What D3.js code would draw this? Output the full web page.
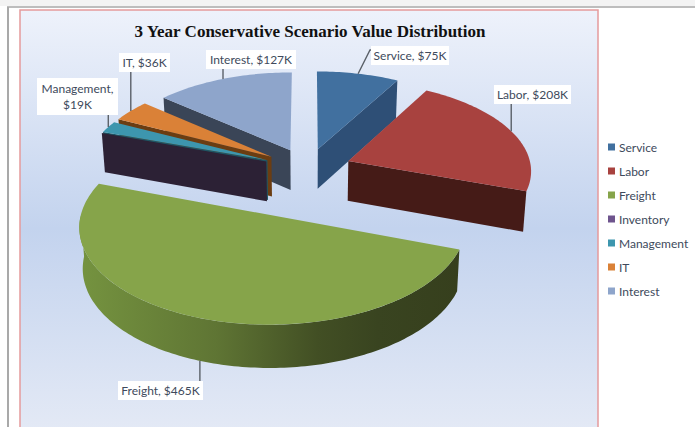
<!DOCTYPE html>
<html>
<head>
<meta charset="utf-8">
<script src="https://cdn.jsdelivr.net/npm/d3@7"></script>
<style>
  html, body { margin: 0; padding: 0; background: #fff; }
  svg { display: block; }
</style>
</head>
<body>
<div id="chart"></div>
<script>
// Cost categories and their values, in $K
const categories = ["Service", "Labor", "Freight", "Inventory", "Management", "IT", "Interest"];
const amounts = [75, 208, 465, 0, 19, 36, 127];
const chartTitle = "3 Year Conservative Scenario Value Distribution";

const topColors = ["#41709f", "#a8423f", "#86a44a", "#6e548d", "#3d96ae", "#da8137", "#8ea5cb"];
const wallColors = ["#2e4f76", "#451b17", "#3a4420", "#2c2135", "#1f5563", "#6b3d12", "#3a4557"];

const W = 695, H = 427;
const svg = d3.select("#chart").append("svg").attr("width", W).attr("height", H);
const defs = svg.append("defs");

const panelFill = defs.append("linearGradient").attr("id", "panelFill")
  .attr("x1", 0).attr("y1", 0).attr("x2", 0).attr("y2", 1);
[[0, "#eef2fb"], [0.5, "#c3d3ee"], [1, "#e6ebf6"]].forEach(([o, c]) =>
  panelFill.append("stop").attr("offset", o).attr("stop-color", c));

const freightWall = defs.append("linearGradient").attr("id", "freightWall")
  .attr("gradientUnits", "userSpaceOnUse").attr("x1", 85).attr("y1", 0).attr("x2", 460).attr("y2", 0);
[[0, "#74923f"], [0.35, "#5f7534"], [0.62, "#424f24"], [0.78, "#394420"], [1, "#363f1d"]].forEach(([o, c]) =>
  freightWall.append("stop").attr("offset", o).attr("stop-color", c));

// Page frame and chart panel
svg.append("rect").attr("width", W).attr("height", 6).attr("fill", "#f3f3f3");
svg.append("line").attr("x1", 7).attr("x2", W).attr("y1", 7).attr("y2", 7)
  .attr("stroke", "#bdbdbd").attr("stroke-width", 2);
svg.append("line").attr("x1", 8).attr("x2", 8).attr("y1", 7).attr("y2", H)
  .attr("stroke", "#a9a9a9").attr("stroke-width", 2);
svg.append("rect").attr("x", 20).attr("y", 10).attr("width", 578).attr("height", H + 10)
  .attr("fill", "url(#panelFill)").attr("stroke", "#e59a9c").attr("stroke-width", 1.5);

svg.append("text").attr("x", 310).attr("y", 37).attr("text-anchor", "middle")
  .attr("font-family", "'Liberation Serif', serif").attr("font-weight", "bold")
  .attr("font-size", 17).attr("fill", "#111").text(chartTitle);

// Ground-plane geometry of the exploded pie, viewed in perspective
const centre = { x: 307.5, y: 168.5 };
const radius = 183;
const squash = 0.485;
const viewDistance = 1900;
const wallHeight = 40;
const lowerShrink = 0.985;
const defaultExplode = 42;
const explodeBy = { Freight: 98, Labor: 44, Inventory: 44, Management: 44, IT: 44 };
// The rim wall only shows past this bearing at the viewing angle used here
const rimWallFrom = 109.6 * Math.PI / 180;

const scaleAt = z => 1 / (1 - z / viewDistance);
const topPoint = (gx, gz) => {
  const s = scaleAt(gz);
  return [centre.x + gx * s, centre.y + gz * squash * s];
};
const lowerPoint = (gx, gz) => {
  const [x, y] = topPoint(gx, gz);
  return [centre.x + (x - centre.x) * lowerShrink, y + wallHeight * Math.sqrt(scaleAt(gz))];
};

const slices = d3.pie().sort(null).startAngle(0).endAngle(2 * Math.PI)(amounts)
  .map((p, i) => {
    const mid = (p.startAngle + p.endAngle) / 2;
    const e = explodeBy[categories[i]] ?? defaultExplode;
    return {
      name: categories[i], value: p.value, start: p.startAngle, end: p.endAngle, mid,
      ox: e * Math.sin(mid), oz: -e * Math.cos(mid)
    };
  });

const rim = (s, a) => [s.ox + radius * Math.sin(a), s.oz - radius * Math.cos(a)];
const sweep = (a0, a1) => {
  const n = Math.max(1, Math.ceil((a1 - a0) / 0.02));
  return d3.range(n + 1).map(i => a0 + (a1 - a0) * i / n);
};
const outline = d3.line().curve(d3.curveLinear);
const colorOf = d3.scaleOrdinal(categories, topColors);
const wallOf = d3.scaleOrdinal(categories, wallColors);

const radialWall = (s, a) => {
  const [gx, gz] = rim(s, a);
  return outline([topPoint(s.ox, s.oz), topPoint(gx, gz), lowerPoint(gx, gz), lowerPoint(s.ox, s.oz)]) + "Z";
};

// Back slices first so nearer walls cover them
const order = ["Interest", "IT", "Management", "Inventory", "Service", "Labor", "Freight"];
const pieLayer = svg.append("g");
order.forEach(name => {
  const s = slices.find(d => d.name === name);
  const g = pieLayer.append("g");
  const wallFill = name === "Freight" ? "url(#freightWall)" : wallOf(name);

  if (Math.sin(s.start) < 0) g.append("path").attr("d", radialWall(s, s.start)).attr("fill", wallOf(name));
  if (Math.sin(s.end) > 0) g.append("path").attr("d", radialWall(s, s.end)).attr("fill", wallOf(name));

  const a0 = Math.max(s.start, rimWallFrom), a1 = Math.min(s.end, 3 * Math.PI / 2);
  if (a1 > a0) {
    const angles = sweep(a0, a1);
    const upper = angles.map(a => topPoint(...rim(s, a)));
    const lower = angles.map(a => lowerPoint(...rim(s, a))).reverse();
    g.append("path").attr("d", outline(upper.concat(lower)) + "Z").attr("fill", wallFill);
  }

  if (s.end > s.start) {
    const pts = [topPoint(s.ox, s.oz)].concat(sweep(s.start, s.end).map(a => topPoint(...rim(s, a))));
    g.append("path").attr("d", outline(pts) + "Z").attr("fill", colorOf(name));
  }
});

// Data labels: box position, text lines and where each leader ends
const labelBoxes = {
  Service:    { x: 371, y: 46, w: 78, h: 19, elbow: [[370, 50], [372, 50]], lines: 1 },
  Labor:      { x: 494, y: 85, w: 77, h: 19, dropTo: 104, lines: 1 },
  Freight:    { x: 118, y: 381, w: 85, h: 19, dropTo: 381, lines: 1, lower: true },
  Interest:   { x: 206, y: 50, w: 90, h: 19, dropTo: 69, lines: 1 },
  IT:         { x: 119, y: 53, w: 51, h: 19, dropTo: 72, lines: 1 },
  Management: { x: 37, y: 78, w: 81, h: 37, dropTo: 114, lines: 2 }
};

const labelLayer = svg.append("g").attr("font-family", "Lato, sans-serif")
  .attr("font-size", 12).attr("fill", "#404a5c");
Object.entries(labelBoxes).forEach(([name, b]) => {
  const s = slices.find(d => d.name === name);
  const g = rim(s, s.mid);
  const anchor = b.lower ? lowerPoint(...g) : topPoint(...g);
  const leader = b.elbow ? [anchor].concat(b.elbow) : [anchor, [anchor[0], b.dropTo]];
  labelLayer.append("path").attr("d", outline(leader))
    .attr("fill", "none").attr("stroke", "#5a6068").attr("stroke-width", 1.4);
  labelLayer.append("rect").attr("x", b.x).attr("y", b.y).attr("width", b.w).attr("height", b.h).attr("fill", "#fff");
  const mx = b.x + b.w / 2;
  if (b.lines === 2) {
    labelLayer.append("text").attr("x", mx).attr("y", b.y + 15).attr("text-anchor", "middle").text(`${name},`);
    labelLayer.append("text").attr("x", mx).attr("y", b.y + 31).attr("text-anchor", "middle").text(`$${s.value}K`);
  } else {
    labelLayer.append("text").attr("x", mx).attr("y", b.y + 14).attr("text-anchor", "middle").text(`${name}, $${s.value}K`);
  }
});

// Legend
const legendY = d3.scalePoint(categories, [147, 291]);
const legend = svg.append("g").selectAll("g").data(categories).join("g")
  .attr("transform", d => `translate(608,${legendY(d)})`);
legend.append("rect").attr("x", 0).attr("y", -3.5).attr("width", 7).attr("height", 7).attr("fill", d => colorOf(d));
legend.append("text").attr("x", 11).attr("y", 4.5)
  .attr("font-family", "Lato, sans-serif").attr("font-size", 12).attr("fill", "#404a5c").text(d => d);
</script>
</body>
</html>
